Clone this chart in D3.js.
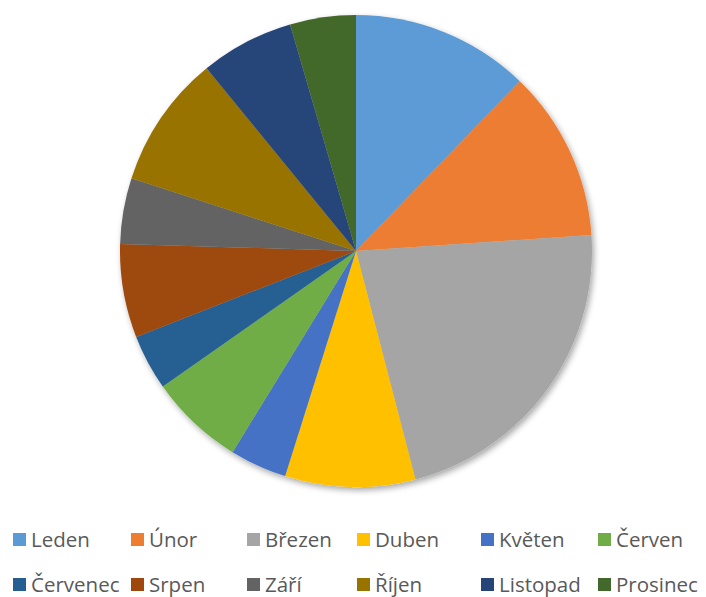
<!DOCTYPE html>
<html><head><meta charset="utf-8">
<script src="https://cdn.jsdelivr.net/npm/d3@7"></script>
<style>body{margin:0;background:#fff}svg{display:block}</style>
</head><body>
<svg id="c" width="706" height="597"></svg>
<script>
const categories = ["Leden","Únor","Březen","Duben","Květen","Červen","Červenec","Srpen","Září","Říjen","Listopad","Prosinec"];
const values = [12.2, 11.7, 22.0, 8.9, 3.9, 6.5, 3.8, 6.4, 4.5, 9.1, 6.4, 4.5];
const colors = ["#5B9BD5","#ED7D31","#A5A5A5","#FFC000","#4472C4","#70AD47","#255E91","#9E480E","#636363","#997300","#264478","#43682B"];

const svg = d3.select("#c");
const defs = svg.append("defs");
const f = defs.append("filter").attr("id","sh").attr("x","-20%").attr("y","-20%").attr("width","140%").attr("height","140%");
f.append("feGaussianBlur").attr("in","SourceAlpha").attr("stdDeviation",3);
f.append("feOffset").attr("dx",2).attr("dy",3).attr("result","b");
f.append("feComponentTransfer").append("feFuncA").attr("type","linear").attr("slope",0.35);
const m = f.append("feMerge"); m.append("feMergeNode"); m.append("feMergeNode").attr("in","SourceGraphic");

const cx = 356, cy = 251, r = 236;
const pie = d3.pie().sort(null).value(d=>d);
const arc = d3.arc().innerRadius(0).outerRadius(r);
const color = d3.scaleOrdinal().domain(categories).range(colors);
const g = svg.append("g").attr("transform",`translate(${cx},${cy})`).attr("filter","url(#sh)");
g.selectAll("path").data(pie(values)).join("path")
  .attr("d",arc).attr("fill",(d,i)=>color(categories[i]));

const colX = [13,131,247,357,481,598];
const rowY = [533,578];
const lg = svg.append("g");
categories.forEach((c,i)=>{
  const col = i%6, row = Math.floor(i/6);
  const x = colX[col], y = rowY[row];
  lg.append("rect").attr("x",x).attr("y",y).attr("width",13).attr("height",13).attr("fill",color(c));
  lg.append("text").attr("x",x+18).attr("y",y+14).attr("font-family","'Open Sans', sans-serif")
    .attr("font-size",20.5).attr("fill","#595959").text(c);
});
</script>
</body></html>
